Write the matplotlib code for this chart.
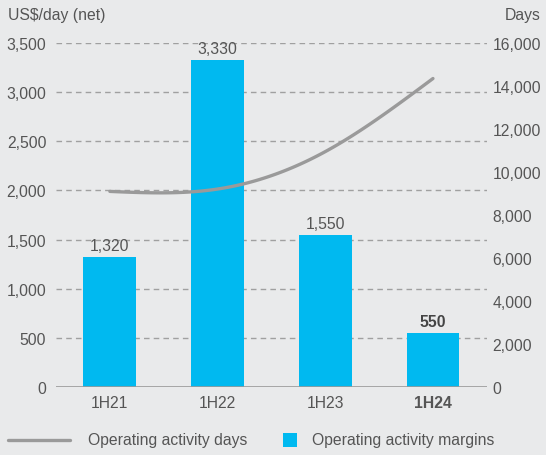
import numpy as np
import matplotlib.pyplot as plt
from matplotlib.lines import Line2D
from matplotlib.patches import Rectangle

plt.rcParams['font.family'] = ['Liberation Sans', 'DejaVu Sans']

periods = ['1H21', '1H22', '1H23', '1H24']
margins = [1320, 3330, 1550, 550]          # US$/day (net)
days = [9100, 9210, 10950, 14350]          # operating activity days
margin_labels = ['1,320', '3,330', '1,550', '550']
left_ticks = [0, 500, 1000, 1500, 2000, 2500, 3000, 3500]
right_ticks = [0, 2000, 4000, 6000, 8000, 10000, 12000, 14000, 16000]

bg = '#e9eaeb'
cyan = '#00b9f0'
grey_line = '#9a9a9a'
txt = '#555555'
fs = 11.3


def smooth(ys, n=40):
    # natural cubic spline through equally spaced points
    ys = np.asarray(ys, float)
    k = len(ys)
    A = np.zeros((k, k))
    r = np.zeros(k)
    A[0, 0] = A[-1, -1] = 1
    for i in range(1, k - 1):
        A[i, i - 1:i + 2] = [1, 4, 1]
        r[i] = 6 * (ys[i - 1] - 2 * ys[i] + ys[i + 1])
    M = np.linalg.solve(A, r)
    out_x, out_y = [], []
    for i in range(k - 1):
        t = np.linspace(0, 1, n)
        y = (ys[i] * (1 - t) + ys[i + 1] * t
             + M[i] / 6 * ((1 - t) ** 3 - (1 - t))
             + M[i + 1] / 6 * (t ** 3 - t))
        out_x.append(i + t)
        out_y.append(y)
    return np.concatenate(out_x), np.concatenate(out_y)


fig = plt.figure(figsize=(5.46, 4.56), dpi=100, facecolor=bg)
ax = fig.add_axes([0.1026, 0.149, 0.789, 0.7544])
ax.set_facecolor(bg)

x = np.arange(len(periods))
ax.bar(x, margins, width=0.49, color=cyan, zorder=3)

for xi, v, lab in zip(x, margins, margin_labels):
    bold = lab == '550'
    ax.text(xi, v + 40, lab, ha='center', va='bottom', fontsize=fs,
            color='#444444' if bold else txt, fontweight='bold' if bold else 'normal')

ax.set_xlim(-0.5, 3.5)
ax.set_ylim(0, 3500)
ax.set_yticks(left_ticks)
ax.set_yticklabels([f'{t:,}' for t in left_ticks])
ax.set_xticks(x)
ax.set_xticklabels(periods)
ax.get_xticklabels()[-1].set_fontweight('bold')
ax.get_xticklabels()[-1].set_color('#444444')

for t in left_ticks[1:]:
    ax.axhline(t, color='#a0a0a0', lw=1, ls=(0, (4, 3)), zorder=1)
ax.axhline(0, color='#9a9a9a', lw=1.2, zorder=4)

for s in ax.spines.values():
    s.set_visible(False)
ax.tick_params(length=0, labelsize=fs, colors=txt)
ax.tick_params(axis='y', pad=7)
ax.tick_params(axis='x', pad=6)

ax2 = ax.twinx()
ax2.set_ylim(0, 16000)
ax2.set_yticks(right_ticks)
ax2.set_yticklabels([f'{t:,}' for t in right_ticks])
for s in ax2.spines.values():
    s.set_visible(False)
ax2.tick_params(length=0, labelsize=fs, colors=txt, pad=4)

sx, sy = smooth(days)
ax2.plot(sx, sy, color=grey_line, lw=2.4, solid_capstyle='round', zorder=5)

fig.text(0.015, 0.965, 'US$/day (net)', fontsize=fs, color=txt, ha='left', va='center')
fig.text(0.99, 0.965, 'Days', fontsize=fs, color=txt, ha='right', va='center')

# legend drawn by hand: long line key, small square key
W, H = 546, 456
ly = 1 - 441 / H
fig.add_artist(Line2D([8 / W, 70 / W], [ly, ly], transform=fig.transFigure,
                      color=grey_line, lw=2.4, solid_capstyle='round'))
fig.text(88 / W, ly, 'Operating activity days', fontsize=fs, color=txt,
         ha='left', va='center')
fig.add_artist(Rectangle((283 / W, ly - 7 / H), 14 / W, 14 / H,
                         transform=fig.transFigure, color=cyan, lw=0))
fig.text(312 / W, ly, 'Operating activity margins', fontsize=fs, color=txt,
         ha='left', va='center')

fig.savefig('out.png', dpi=100, facecolor=bg)
